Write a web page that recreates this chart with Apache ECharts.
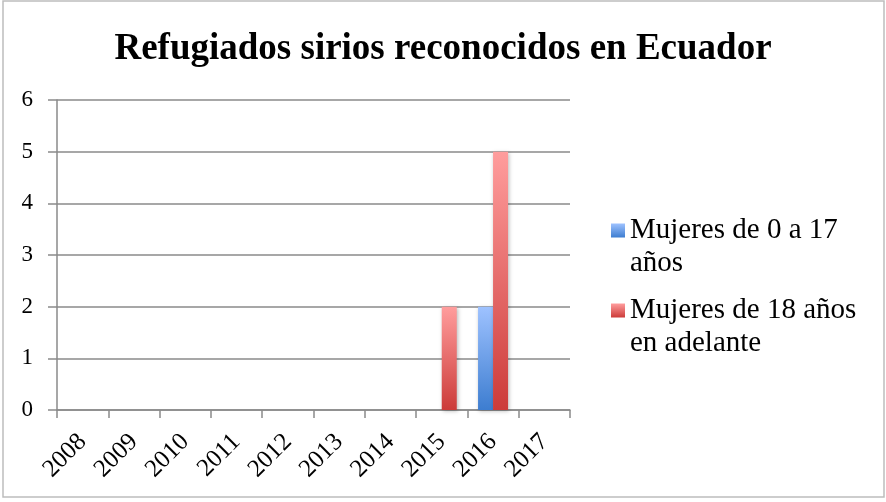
<!DOCTYPE html>
<html>
<head>
<meta charset="utf-8">
<script src="https://cdn.jsdelivr.net/npm/echarts@6/dist/echarts.min.js"></script>
<style>html,body{margin:0;padding:0;background:#fff;}#c{width:886px;height:502px;}</style>
</head>
<body>
<div id="c"></div>
<script>
var titleText = 'Refugiados sirios reconocidos en Ecuador';
var years = ['2008','2009','2010','2011','2012','2013','2014','2015','2016','2017'];
var seriesNames = ['Mujeres de 0 a 17 años', 'Mujeres de 18 años en adelante'];
var legendLabels = ['Mujeres de 0 a 17\naños', 'Mujeres de 18 años\nen adelante'];
var girls = [0, 0, 0, 0, 0, 0, 0, 0, 2, 0];
var women = [0, 0, 0, 0, 0, 0, 0, 2, 5, 0];
var yTicks = [0, 1, 2, 3, 4, 5, 6];

var FONT = "'Liberation Serif','Times New Roman',serif";
function grad(top, bottom, end) {
  return new echarts.graphic.LinearGradient(0, 0, 0, end, [
    {offset: 0, color: top}, {offset: 1, color: bottom}
  ]);
}
var blueTop = '#9ec2ff', blueBot = '#3d7dd0';
var redTop = '#ff9d9d', redBot = '#cc3b39';
var shadow = {shadowBlur: 4, shadowColor: 'rgba(0,0,0,0.28)', shadowOffsetX: 1, shadowOffsetY: 1};

var chart = echarts.init(document.getElementById('c'), null, {renderer: 'canvas'});
chart.setOption({
  animation: false,
  backgroundColor: '#fff',
  title: {
    text: titleText, left: 'center', top: 26,
    textStyle: {fontFamily: FONT, fontWeight: 'bold', fontSize: 37, color: '#000'}
  },
  graphic: [{
    type: 'rect', shape: {x: 3, y: 1, width: 881, height: 496},
    style: {fill: 'none', stroke: '#bdbdbd', lineWidth: 1.5}, silent: true, z: -1
  }],
  legend: {
    orient: 'vertical', left: 611, top: 214, padding: 0,
    itemWidth: 14, itemHeight: 47, itemGap: 14,
    icon: 'path://M0,0H14V14H0Z M0,47L14,47Z',
    data: [
      {name: seriesNames[0], itemStyle: {color: grad(blueTop, blueBot, 0.298)}},
      {name: seriesNames[1], itemStyle: {color: grad(redTop, redBot, 0.298)}}
    ],
    formatter: function (n) { return legendLabels[seriesNames.indexOf(n)]; },
    textStyle: {fontFamily: FONT, fontSize: 29, lineHeight: 33, color: '#000'},
    itemStyle: {shadowBlur: 0, shadowColor: 'transparent', shadowOffsetX: 0, shadowOffsetY: 0}
  },
  grid: {left: 57, right: 316, top: 100, bottom: 92, containLabel: false},
  xAxis: {
    type: 'category', data: years, boundaryGap: true,
    axisLine: {lineStyle: {color: '#8a8a8a', width: 1.5}},
    axisTick: {show: true, length: 8, lineStyle: {color: '#8a8a8a', width: 1.5}},
    axisLabel: {rotate: 45, fontFamily: FONT, fontSize: 25, color: '#000', margin: 28, interval: 0}
  },
  yAxis: {
    type: 'value', min: 0, max: yTicks[yTicks.length - 1], interval: 1,
    axisLine: {show: true, lineStyle: {color: '#8a8a8a', width: 1.5}},
    axisTick: {show: true, length: 9, lineStyle: {color: '#8a8a8a', width: 1.5}},
    axisLabel: {fontFamily: FONT, fontSize: 23, color: '#000', margin: 24},
    splitLine: {show: true, lineStyle: {color: '#8a8a8a', width: 1.5}}
  },
  series: [
    {
      name: seriesNames[0], type: 'bar', data: girls, barWidth: 15, barGap: '0%',
      itemStyle: Object.assign({color: grad(blueTop, blueBot, 1)}, shadow)
    },
    {
      name: seriesNames[1], type: 'bar', data: women, barWidth: 15, barGap: '0%',
      itemStyle: Object.assign({color: grad(redTop, redBot, 1)}, shadow)
    }
  ]
});
</script>
</body>
</html>
